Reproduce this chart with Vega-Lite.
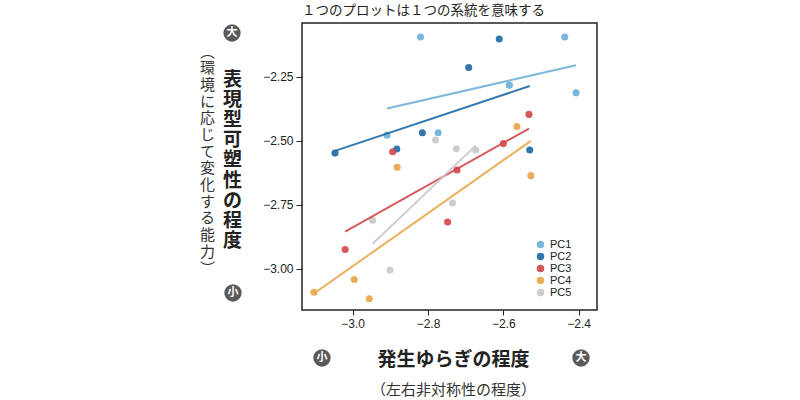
{
  "$schema": "https://vega.github.io/schema/vega-lite/v6.json",
  "width": 295,
  "height": 287,
  "autosize": {"type": "none"},
  "padding": {"left": 302, "top": 23, "right": 203, "bottom": 90},
  "background": "white",
  "title": {
    "text": "１つのプロットは１つの系統を意味する",
    "anchor": "start",
    "frame": "group",
    "font": "Noto Sans CJK JP",
    "fontSize": 13.5,
    "fontWeight": "normal",
    "color": "#222",
    "baseline": "bottom",
    "offset": 5,
    "dy": 13
  },
  "config": {
    "view": {"stroke": "#222", "strokeWidth": 1.5},
    "axis": {"labelFont": "Liberation Sans", "labelColor": "#222", "tickColor": "#222", "grid": false, "domain": false, "titleColor": "#222", "titleFont": "Noto Sans CJK JP"},
    "legend": {"labelFont": "Liberation Sans"}
  },
  "data": {
    "values": [
      {"series": "PC1", "x": -2.820, "y": -2.095},
      {"series": "PC1", "x": -2.437, "y": -2.095},
      {"series": "PC1", "x": -2.584, "y": -2.283},
      {"series": "PC1", "x": -2.407, "y": -2.313},
      {"series": "PC1", "x": -2.909, "y": -2.478},
      {"series": "PC1", "x": -2.773, "y": -2.469},
      {"series": "PC2", "x": -2.611, "y": -2.103},
      {"series": "PC2", "x": -2.692, "y": -2.214},
      {"series": "PC2", "x": -2.815, "y": -2.469},
      {"series": "PC2", "x": -2.883, "y": -2.532},
      {"series": "PC2", "x": -3.047, "y": -2.548},
      {"series": "PC2", "x": -2.530, "y": -2.536},
      {"series": "PC3", "x": -2.532, "y": -2.397},
      {"series": "PC3", "x": -2.600, "y": -2.511},
      {"series": "PC3", "x": -2.894, "y": -2.543},
      {"series": "PC3", "x": -2.723, "y": -2.614},
      {"series": "PC3", "x": -2.748, "y": -2.817},
      {"series": "PC3", "x": -3.020, "y": -2.924},
      {"series": "PC4", "x": -2.564, "y": -2.444},
      {"series": "PC4", "x": -2.882, "y": -2.603},
      {"series": "PC4", "x": -2.527, "y": -2.636},
      {"series": "PC4", "x": -2.996, "y": -3.041},
      {"series": "PC4", "x": -2.956, "y": -3.116},
      {"series": "PC4", "x": -3.103, "y": -3.091},
      {"series": "PC5", "x": -2.780, "y": -2.497},
      {"series": "PC5", "x": -2.725, "y": -2.531},
      {"series": "PC5", "x": -2.673, "y": -2.536},
      {"series": "PC5", "x": -2.735, "y": -2.743},
      {"series": "PC5", "x": -2.947, "y": -2.810},
      {"series": "PC5", "x": -2.901, "y": -3.004}
    ]
  },
  "resolve": {"axis": {"x": "independent", "y": "independent"}},
  "layer": [
    {
      "mark": {"type": "circle", "size": 50, "opacity": 0.92},
      "encoding": {
        "x": {
          "field": "x", "type": "quantitative",
          "scale": {"domain": [-3.1346, -2.3514], "nice": false, "zero": false},
          "axis": {
            "orient": "bottom", "values": [-3.0, -2.8, -2.6, -2.4], "format": ".1f",
            "labelFontSize": 12, "tickSize": 5, "labelPadding": 3,
            "title": "発生ゆらぎの程度", "titleFontSize": 19, "titleFontWeight": "bold",
            "titleX": 151, "titleY": 49, "titleAlign": "center", "titleBaseline": "middle"
          }
        },
        "y": {
          "field": "y", "type": "quantitative",
          "scale": {"domain": [-3.16, -2.0406], "nice": false, "zero": false},
          "axis": {
            "orient": "left", "values": [-3.0, -2.75, -2.5, -2.25], "format": ".2f",
            "labelFontSize": 12, "tickSize": 6, "labelPadding": 3,
            "title": ["表", "現", "型", "可", "塑", "性", "の", "程", "度"],
            "titleFontSize": 19, "titleFontWeight": "bold", "titleAngle": 0,
            "titleLineHeight": 20.2, "titleX": -70, "titleY": 47,
            "titleAlign": "center", "titleBaseline": "top"
          }
        },
        "color": {
          "field": "series", "type": "nominal",
          "scale": {"domain": ["PC1", "PC2", "PC3", "PC4", "PC5"], "range": ["#6fb0d8", "#1f6aa5", "#d2484c", "#e9a64b", "#c9c9c9"]},
          "legend": {
            "title": null, "orient": "none", "legendX": 233, "legendY": 216,
            "symbolType": "circle", "symbolSize": 36, "labelFontSize": 11, "labelOffset": 4,
            "rowPadding": -1, "padding": 0, "labelColor": "#222", "symbolOpacity": 0.92
          }
        }
      }
    },
    {
      "transform": [{"regression": "y", "on": "x", "groupby": ["series"]}],
      "mark": {"type": "line", "strokeWidth": 2, "opacity": 0.9},
      "encoding": {
        "x": {
          "field": "x", "type": "quantitative",
          "axis": {
            "orient": "bottom", "labels": false, "ticks": false, "domain": false,
            "title": "（左右非対称性の程度）", "titleFontSize": 15, "titleFontWeight": "normal",
            "titleX": 151, "titleY": 79, "titleAlign": "center", "titleBaseline": "middle", "titleColor": "#333"
          }
        },
        "y": {
          "field": "y", "type": "quantitative",
          "axis": {
            "orient": "left", "labels": false, "ticks": false, "domain": false,
            "title": ["︵", "環", "境", "に", "応", "じ", "て", "変", "化", "す", "る", "能", "力", "︶"],
            "titleFontSize": 15, "titleFontWeight": "normal", "titleAngle": 0,
            "titleLineHeight": 16.7, "titleX": -95, "titleY": 21,
            "titleAlign": "center", "titleBaseline": "top", "titleColor": "#333"
          }
        },
        "color": {"field": "series", "type": "nominal", "legend": null}
      }
    },
    {
      "data": {"values": [{"badge": "大"}]},
      "encoding": {
        "x": {"datum": -3.3204, "type": "quantitative", "axis": null},
        "y": {"datum": -2.0796, "type": "quantitative", "axis": null}
      },
      "layer": [
        {"mark": {"type": "point", "shape": "circle", "filled": true, "size": 300, "color": "#5a5a5a", "opacity": 1}},
        {"mark": {"type": "text", "color": "white", "fontSize": 11, "fontWeight": "bold", "font": "Noto Sans CJK JP", "baseline": "middle", "align": "center"}, "encoding": {"text": {"field": "badge"}}}
      ]
    },
    {
      "data": {"values": [{"badge": "小"}]},
      "encoding": {
        "x": {"datum": -3.3178, "type": "quantitative", "axis": null},
        "y": {"datum": -3.0936, "type": "quantitative", "axis": null}
      },
      "layer": [
        {"mark": {"type": "point", "shape": "circle", "filled": true, "size": 300, "color": "#5a5a5a", "opacity": 1}},
        {"mark": {"type": "text", "color": "white", "fontSize": 11, "fontWeight": "bold", "font": "Noto Sans CJK JP", "baseline": "middle", "align": "center"}, "encoding": {"text": {"field": "badge"}}}
      ]
    },
    {
      "data": {"values": [{"badge": "小"}]},
      "encoding": {
        "x": {"datum": -3.0815, "type": "quantitative", "axis": null},
        "y": {"datum": -3.3471, "type": "quantitative", "axis": null}
      },
      "layer": [
        {"mark": {"type": "point", "shape": "circle", "filled": true, "size": 300, "color": "#5a5a5a", "opacity": 1}},
        {"mark": {"type": "text", "color": "white", "fontSize": 11, "fontWeight": "bold", "font": "Noto Sans CJK JP", "baseline": "middle", "align": "center"}, "encoding": {"text": {"field": "badge"}}}
      ]
    },
    {
      "data": {"values": [{"badge": "大"}]},
      "encoding": {
        "x": {"datum": -2.3939, "type": "quantitative", "axis": null},
        "y": {"datum": -3.3471, "type": "quantitative", "axis": null}
      },
      "layer": [
        {"mark": {"type": "point", "shape": "circle", "filled": true, "size": 300, "color": "#5a5a5a", "opacity": 1}},
        {"mark": {"type": "text", "color": "white", "fontSize": 11, "fontWeight": "bold", "font": "Noto Sans CJK JP", "baseline": "middle", "align": "center"}, "encoding": {"text": {"field": "badge"}}}
      ]
    }
  ]
}
